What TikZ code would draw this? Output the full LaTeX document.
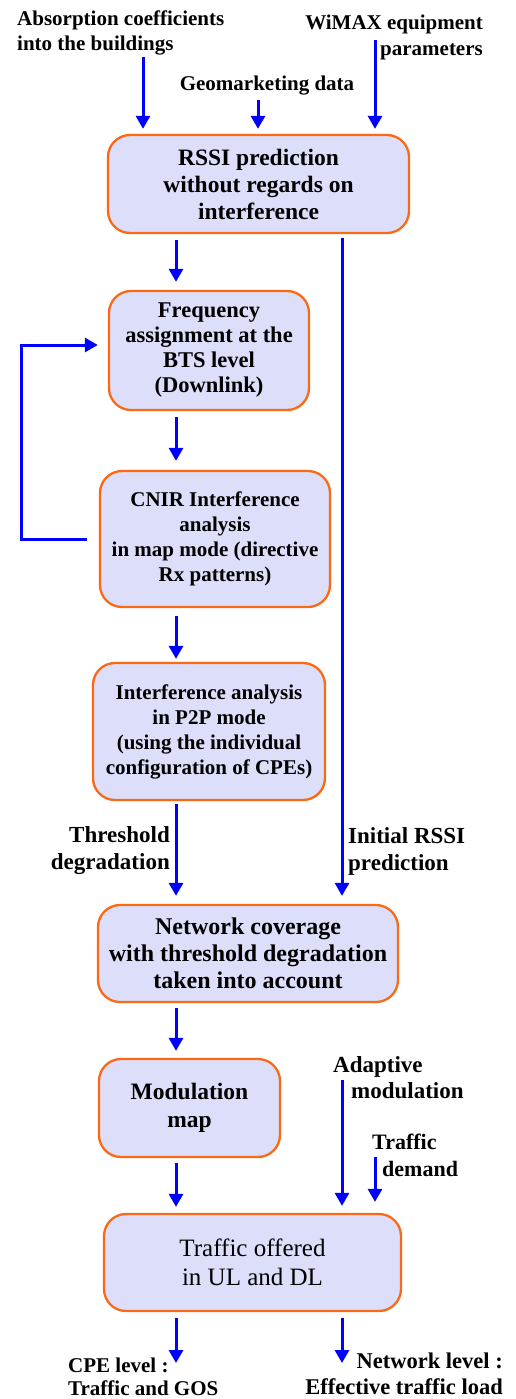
\documentclass[tikz,border=0pt]{standalone}
\usepackage{fontspec}
\setmainfont{Liberation Serif}
\usetikzlibrary{arrows.meta}
\definecolor{boxfill}{RGB}{221,223,250}
\definecolor{boxline}{RGB}{250,105,20}
\definecolor{arrblue}{RGB}{0,0,255}
\newcommand{\fs}[2]{\fontsize{#1}{#2}\selectfont}
\begin{document}
\begin{tikzpicture}[x=1pt,y=-1pt,
  box/.style={draw=boxline, line width=2.3pt, fill=boxfill, rounded corners=22pt, inner sep=0pt, align=center},
  lab/.style={inner sep=0pt},
  arr/.style={draw=arrblue, line width=3pt, -{Triangle[width=14pt,length=13pt]}}]
\useasboundingbox (0,0) rectangle (515,1399);
% column coordinates
\coordinate (xA) at (143,0);
\coordinate (xG) at (258,0);
\coordinate (xW) at (375,0);
\coordinate (xL) at (176,0);
\coordinate (xR) at (342,0);
\coordinate (fbL) at (21,0);
% boxes
\node[box, minimum width=301pt, minimum height=98pt, font=\bfseries\fs{23.5}{27}] (b1) at (258.5,184) {RSSI prediction\\without regards on\\interference};
\node[box, minimum width=200pt, minimum height=119pt, font=\bfseries\fs{22.5}{25}] (b2) at (209,350.5) {Frequency\\assignment at the\\BTS level\\(Downlink)};
\node[box, minimum width=230pt, minimum height=136pt, font=\bfseries\fs{21}{25}] (b3) at (215,539) {CNIR Interference\\analysis\\in map mode (directive\\Rx patterns)};
\node[box, minimum width=232pt, minimum height=137pt, font=\bfseries\fs{21}{25}] (b4) at (209,731.5) {Interference analysis\\in P2P mode\\(using the individual\\configuration of CPEs)};
\node[box, minimum width=300pt, minimum height=97pt, font=\bfseries\fs{24}{27}] (b5) at (248,953.5) {Network coverage\\with threshold degradation\\taken into account};
\node[box, minimum width=181pt, minimum height=98pt, font=\bfseries\fs{23.5}{28}] (b6) at (189.5,1108) {Modulation\\map};
\node[box, minimum width=297pt, minimum height=97pt, font=\fs{25}{29}] (b7) at (252.5,1262.5) {Traffic offered\\in UL and DL};
% labels
\node[lab, anchor=west, align=left, font=\bfseries\fs{21}{25}] (labA) at (17,33) {Absorption coefficients\\into the buildings};
\node[lab, font=\bfseries\fs{21}{25}] (labG) at (267,86) {Geomarketing data};
\node[lab, anchor=east, align=right, font=\bfseries\fs{21}{26}] (labW) at (483,37) {WiMAX equipment\\parameters};
\node[lab, anchor=east, align=right, font=\bfseries\fs{23}{27}] (labT) at (170,851) {Threshold\\degradation};
\node[lab, anchor=west, align=left, font=\bfseries\fs{23}{27}] (labI) at (348,851) {Initial RSSI\\prediction};
\node[lab, anchor=west, align=left, font=\bfseries\fs{23}{26}] (labAd) at (333,1078) {Adaptive\\\hspace*{18pt}modulation};
\node[lab, anchor=west, align=left, font=\bfseries\fs{22}{27}] (labTd) at (372,1155) {Traffic\\\hspace*{10pt}demand};
\node[lab, anchor=west, align=left, font=\bfseries\fs{21}{23}] (labC) at (68,1377) {CPE level :\\Traffic and GOS};
\node[lab, anchor=east, align=right, font=\bfseries\fs{22.5}{26}] (labN) at (503,1374) {Network level :\\Effective traffic load};
% free-end coordinates
\coordinate (wStart) at (375,40);
\coordinate (adStart) at (342,1080);
\coordinate (tdStart) at (375,1157);
\coordinate (cpeEnd) at (176,1363);
\coordinate (netEnd) at (342,1363);
% input arrows
\draw[arr, shorten <=2pt, shorten >=5pt] (labA.south -| xA) -- (b1.north -| xA);
\draw[arr, shorten <=4pt, shorten >=5pt] (labG.south -| xG) -- (b1.north -| xG);
\draw[arr, shorten >=5pt] (wStart) -- (b1.north -| xW);
% main flow
\draw[arr, shorten <=6pt, shorten >=8pt] (b1.south -| xL) -- (b2.north -| xL);
\draw[arr, shorten <=4pt, shorten >=8pt] (b1.south -| xR) -- (b5.north -| xR);
\draw[arr, shorten <=6pt, shorten >=9pt] (b2.south -| xL) -- (b3.north -| xL);
\draw[arr, shorten <=8pt, shorten >=3pt] (b3.south -| xL) -- (b4.north -| xL);
\draw[arr, shorten <=3pt, shorten >=8pt] (b4.south -| xL) -- (b5.north -| xL);
\draw[arr, shorten <=5pt, shorten >=7pt] (b5.south -| xL) -- (b6.north -| xL);
\draw[arr, shorten <=5pt, shorten >=6pt] (b6.south -| xL) -- (b7.north -| xL);
\draw[arr, shorten >=7pt] (adStart) -- (b7.north -| xR);
\draw[arr, shorten >=11pt] (tdStart) -- (b7.north -| xW);
% feedback loop
\draw[arr, shorten <=12pt, shorten >=10pt] (b3.west) -- (b3.west -| fbL) |- ([yshift=5.5pt]b2.west);
% outputs
\draw[arr, shorten <=6pt] (b7.south -| xL) -- (cpeEnd);
\draw[arr, shorten <=6pt] (b7.south -| xR) -- (netEnd);
\end{tikzpicture}
\end{document}
